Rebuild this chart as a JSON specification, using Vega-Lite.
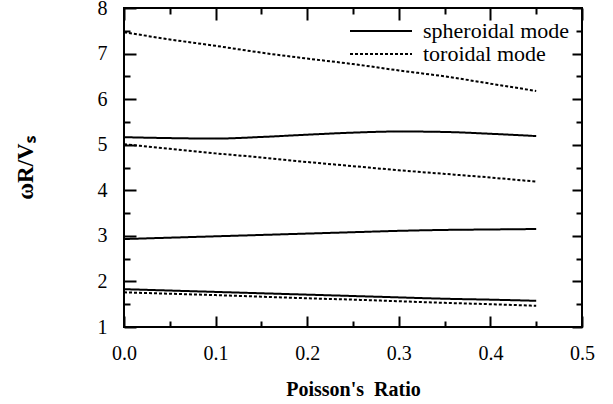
{
  "$schema": "https://vega.github.io/schema/vega-lite/v6.json",
  "width": 458,
  "height": 319,
  "autosize": "none",
  "padding": {"left": 124, "top": 8, "right": 31, "bottom": 77},
  "background": "white",
  "config": {
    "font": "Liberation Serif",
    "view": {"stroke": "black", "strokeWidth": 2},
    "axis": {
      "domain": false, "grid": false, "tickColor": "black", "tickWidth": 2,
      "labelFont": "Liberation Serif", "labelFontSize": 20, "labelColor": "black",
      "titleFont": "Liberation Serif", "titleColor": "black", "titleFontWeight": "bold"
    }
  },
  "data": {"values": [
    {"x": 0, "v": 1.83, "curve": "S1", "mode": "spheroidal mode"},
    {"x": 0.05, "v": 1.80, "curve": "S1", "mode": "spheroidal mode"},
    {"x": 0.1, "v": 1.77, "curve": "S1", "mode": "spheroidal mode"},
    {"x": 0.15, "v": 1.74, "curve": "S1", "mode": "spheroidal mode"},
    {"x": 0.2, "v": 1.71, "curve": "S1", "mode": "spheroidal mode"},
    {"x": 0.25, "v": 1.68, "curve": "S1", "mode": "spheroidal mode"},
    {"x": 0.3, "v": 1.65, "curve": "S1", "mode": "spheroidal mode"},
    {"x": 0.35, "v": 1.62, "curve": "S1", "mode": "spheroidal mode"},
    {"x": 0.4, "v": 1.60, "curve": "S1", "mode": "spheroidal mode"},
    {"x": 0.45, "v": 1.575, "curve": "S1", "mode": "spheroidal mode"},
    {"x": 0, "v": 2.93, "curve": "S2", "mode": "spheroidal mode"},
    {"x": 0.05, "v": 2.96, "curve": "S2", "mode": "spheroidal mode"},
    {"x": 0.1, "v": 2.99, "curve": "S2", "mode": "spheroidal mode"},
    {"x": 0.15, "v": 3.02, "curve": "S2", "mode": "spheroidal mode"},
    {"x": 0.2, "v": 3.05, "curve": "S2", "mode": "spheroidal mode"},
    {"x": 0.25, "v": 3.08, "curve": "S2", "mode": "spheroidal mode"},
    {"x": 0.3, "v": 3.11, "curve": "S2", "mode": "spheroidal mode"},
    {"x": 0.35, "v": 3.13, "curve": "S2", "mode": "spheroidal mode"},
    {"x": 0.4, "v": 3.14, "curve": "S2", "mode": "spheroidal mode"},
    {"x": 0.45, "v": 3.15, "curve": "S2", "mode": "spheroidal mode"},
    {"x": 0, "v": 5.165, "curve": "S3", "mode": "spheroidal mode"},
    {"x": 0.05, "v": 5.145, "curve": "S3", "mode": "spheroidal mode"},
    {"x": 0.1, "v": 5.135, "curve": "S3", "mode": "spheroidal mode"},
    {"x": 0.15, "v": 5.17, "curve": "S3", "mode": "spheroidal mode"},
    {"x": 0.2, "v": 5.22, "curve": "S3", "mode": "spheroidal mode"},
    {"x": 0.25, "v": 5.265, "curve": "S3", "mode": "spheroidal mode"},
    {"x": 0.3, "v": 5.29, "curve": "S3", "mode": "spheroidal mode"},
    {"x": 0.35, "v": 5.28, "curve": "S3", "mode": "spheroidal mode"},
    {"x": 0.4, "v": 5.24, "curve": "S3", "mode": "spheroidal mode"},
    {"x": 0.45, "v": 5.19, "curve": "S3", "mode": "spheroidal mode"},
    {"x": 0, "v": 1.76, "curve": "T1", "mode": "toroidal mode"},
    {"x": 0.05, "v": 1.73, "curve": "T1", "mode": "toroidal mode"},
    {"x": 0.1, "v": 1.70, "curve": "T1", "mode": "toroidal mode"},
    {"x": 0.15, "v": 1.665, "curve": "T1", "mode": "toroidal mode"},
    {"x": 0.2, "v": 1.63, "curve": "T1", "mode": "toroidal mode"},
    {"x": 0.25, "v": 1.60, "curve": "T1", "mode": "toroidal mode"},
    {"x": 0.3, "v": 1.565, "curve": "T1", "mode": "toroidal mode"},
    {"x": 0.35, "v": 1.53, "curve": "T1", "mode": "toroidal mode"},
    {"x": 0.4, "v": 1.50, "curve": "T1", "mode": "toroidal mode"},
    {"x": 0.45, "v": 1.465, "curve": "T1", "mode": "toroidal mode"},
    {"x": 0, "v": 5.01, "curve": "T2", "mode": "toroidal mode"},
    {"x": 0.05, "v": 4.91, "curve": "T2", "mode": "toroidal mode"},
    {"x": 0.1, "v": 4.81, "curve": "T2", "mode": "toroidal mode"},
    {"x": 0.15, "v": 4.72, "curve": "T2", "mode": "toroidal mode"},
    {"x": 0.2, "v": 4.62, "curve": "T2", "mode": "toroidal mode"},
    {"x": 0.25, "v": 4.53, "curve": "T2", "mode": "toroidal mode"},
    {"x": 0.3, "v": 4.44, "curve": "T2", "mode": "toroidal mode"},
    {"x": 0.35, "v": 4.36, "curve": "T2", "mode": "toroidal mode"},
    {"x": 0.4, "v": 4.28, "curve": "T2", "mode": "toroidal mode"},
    {"x": 0.45, "v": 4.19, "curve": "T2", "mode": "toroidal mode"},
    {"x": 0, "v": 7.47, "curve": "T3", "mode": "toroidal mode"},
    {"x": 0.05, "v": 7.31, "curve": "T3", "mode": "toroidal mode"},
    {"x": 0.1, "v": 7.17, "curve": "T3", "mode": "toroidal mode"},
    {"x": 0.15, "v": 7.02, "curve": "T3", "mode": "toroidal mode"},
    {"x": 0.2, "v": 6.89, "curve": "T3", "mode": "toroidal mode"},
    {"x": 0.25, "v": 6.77, "curve": "T3", "mode": "toroidal mode"},
    {"x": 0.3, "v": 6.63, "curve": "T3", "mode": "toroidal mode"},
    {"x": 0.35, "v": 6.50, "curve": "T3", "mode": "toroidal mode"},
    {"x": 0.4, "v": 6.34, "curve": "T3", "mode": "toroidal mode"},
    {"x": 0.45, "v": 6.18, "curve": "T3", "mode": "toroidal mode"}
  ]},
  "layer": [
    {
      "mark": {"type": "line", "interpolate": "monotone", "strokeWidth": 2, "color": "black"},
      "encoding": {
        "x": {"field": "x", "type": "quantitative", "scale": {"domain": [0, 0.5], "nice": false, "zero": false},
          "axis": {"orient": "bottom", "values": [0,0.05,0.1,0.15,0.2,0.25,0.3,0.35,0.4,0.45,0.5],
            "labelExpr": "abs(datum.value*10 - round(datum.value*10)) < 0.001 ? format(datum.value, '.1f') : ''",
            "tickSize": {"condition": {"test": "abs(datum.value*10 - round(datum.value*10)) < 0.001", "value": -11}, "value": -6},
            "labelPadding": 27, "labelFlush": false, "labelOverlap": false,
            "title": "Poisson's\u00a0 Ratio", "titleFontSize": 20, "titlePadding": 11}},
        "y": {"field": "v", "type": "quantitative", "scale": {"domain": [1, 8], "nice": false, "zero": false},
          "axis": {"orient": "left", "values": [1,1.5,2,2.5,3,3.5,4,4.5,5,5.5,6,6.5,7,7.5,8],
            "labelExpr": "datum.value % 1 === 0 ? format(datum.value, 'd') : ''",
            "tickSize": {"condition": {"test": "datum.value % 1 === 0", "value": -12}, "value": -6},
            "labelPadding": 29, "labelFlush": false, "labelOverlap": false,
            "title": "ωR/Vₛ", "titleFontSize": 23, "titlePadding": 60}},
        "detail": {"field": "curve"},
        "strokeDash": {"field": "mode", "type": "nominal",
          "scale": {"domain": ["spheroidal mode", "toroidal mode"], "range": [[1, 0], [3, 2]]},
          "legend": {"orient": "top-right", "title": null, "symbolType": "M-6.2,0H6.2", "symbolSize": 100,
            "symbolStrokeWidth": 2, "symbolStrokeColor": "black", "labelFont": "Liberation Serif",
            "labelFontSize": 22, "labelColor": "black", "labelOffset": 31, "rowPadding": 1, "offset": 6, "padding": 6}}
      }
    },
    {
      "mark": {"type": "line", "interpolate": "monotone", "strokeWidth": 2, "color": "black", "strokeOpacity": 0},
      "encoding": {
        "x": {"field": "x", "type": "quantitative",
          "axis": {"orient": "top", "values": [0,0.05,0.1,0.15,0.2,0.25,0.3,0.35,0.4,0.45,0.5], "labels": false, "title": null,
            "tickSize": {"condition": {"test": "abs(datum.value*10 - round(datum.value*10)) < 0.001", "value": -12}, "value": -6}}},
        "y": {"field": "v", "type": "quantitative",
          "axis": {"orient": "right", "values": [1,1.5,2,2.5,3,3.5,4,4.5,5,5.5,6,6.5,7,7.5,8], "labels": false, "title": null,
            "tickSize": {"condition": {"test": "datum.value % 1 === 0", "value": -10}, "value": -6}}},
        "detail": {"field": "curve"}
      }
    }
  ],
  "resolve": {"axis": {"x": "independent", "y": "independent"}}
}
